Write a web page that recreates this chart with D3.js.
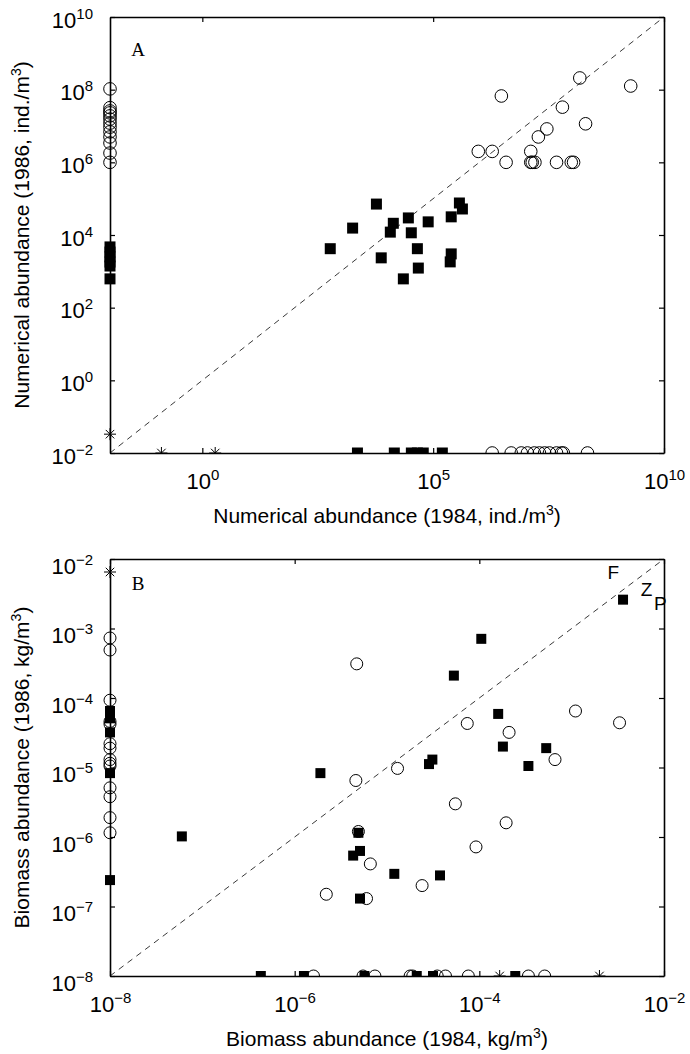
<!DOCTYPE html>
<html><head><meta charset="utf-8">
<script src="https://cdn.jsdelivr.net/npm/d3@7"></script>
<style>
html,body{margin:0;padding:0;background:#fff;}
svg{display:block;}
</style></head>
<body>
<svg id="chart" width="690" height="1054"></svg>
<script>
// ---------------- DATA ----------------
// Panel A: numerical abundance (ind./m^3). Floor value 1e-2 marks "absent" in a year.
const aSquares1984 = [590, 1800, 5900, 7500, 11800, 13700, 22600, 29000, 33600, 45500, 47700, 78000, 234000, 246000, 246000, 370000, 430000,
  0.01, 0.01, 0.01, 0.01, 0.01, 0.01,
  2290, 14400, 33700, 45500, 61000, 158000];
const aSquares1986 = [4200, 15500, 71000, 2350, 12000, 21000, 620, 29500, 11500, 4200, 1230, 23000, 1820, 3020, 31600, 76000, 52000,
  4700, 3400, 2500, 1800, 1400, 620,
  0.01, 0.01, 0.01, 0.01, 0.01, 0.01];
const aCircles1984 = [9.5e5, 1.9e6, 3.0e6, 3.8e6, 1.3e7, 1.3e7, 1.4e7, 1.6e7, 1.9e7, 2.9e7, 4.7e7, 6.3e7, 9.8e7, 1.1e8, 1.5e8, 2.0e8, 1.9e9,
  0.01, 0.01, 0.01, 0.01, 0.01, 0.01, 0.01, 0.01, 0.01, 0.01, 0.01, 0.01, 0.01,
  1.9e6, 4.9e6, 8.1e6, 1.1e7, 1.55e7, 2e7, 2.6e7, 3.3e7, 4.7e7, 6e7, 6.6e7, 2.2e8];
const aCircles1986 = [2.0e6, 2.0e6, 6.7e7, 1.0e6, 2.0e6, 1.0e6, 1.0e6, 1.0e6, 5.0e6, 8.3e6, 1.0e6, 3.3e7, 1.0e6, 1.0e6, 2.1e8, 1.15e7, 1.26e8,
  1.05e8, 3.2e7, 2.6e7, 2.3e7, 1.9e7, 1.55e7, 1.2e7, 9.3e6, 6.9e6, 5e6, 3.4e6, 1.8e6, 1e6,
  0.01, 0.01, 0.01, 0.01, 0.01, 0.01, 0.01, 0.01, 0.01, 0.01, 0.01, 0.01];
const aStars1984 = [0.01, 0.13, 1.9];
const aStars1986 = [0.033, 0.01, 0.01];

// Panel B: biomass abundance (kg/m^3). Floor value 1e-8 marks "absent".
const bSquares1984 = [3.6e-3, 1.05e-4, 5.3e-5, 1.6e-4, 1.8e-4, 5.3e-4, 3.4e-4, 3.1e-5, 2.85e-5, 1.9e-6, 6e-8, 4.9e-6, 5.1e-6, 4.3e-6, 1.2e-5, 3.75e-5, 5.1e-6,
  1e-8, 1e-8, 1e-8, 1e-8, 1e-8,
  4.3e-7, 1.26e-6, 5.7e-6, 2.1e-5, 3.15e-5, 2.45e-4];
const bSquares1986 = [2.6e-3, 7.1e-4, 2.1e-4, 5.9e-5, 2.0e-5, 1.9e-5, 1.05e-5, 1.3e-5, 1.12e-5, 8.3e-6, 1.02e-6, 1.15e-6, 6.3e-7, 5.4e-7, 2.95e-7, 2.8e-7, 1.3e-7,
  6.5e-5, 5.1e-5, 3.2e-5, 8.3e-6, 2.4e-7,
  1e-8, 1e-8, 1e-8, 1e-8, 1e-8, 1e-8];
const bCircles1984 = [4.7e-6, 7.4e-5, 2.1e-4, 1.1e-3, 3.3e-3, 6.6e-4, 1.3e-5, 4.6e-6, 5.5e-5, 1.95e-4, 4.9e-6, 9.2e-5, 6.6e-6, 2.2e-6, 2.4e-5, 6.0e-6,
  1e-8, 1e-8, 1e-8, 1e-8, 1e-8, 1e-8, 1e-8, 1e-8, 1e-8, 1e-8, 1e-8, 1e-8, 1e-8, 1e-8,
  1.6e-6, 5.5e-6, 7.4e-6, 1.78e-5, 1.9e-5, 3.5e-5, 4.3e-5, 7.6e-5, 3.4e-4, 5.1e-4];
const bCircles1986 = [3.1e-4, 4.3e-5, 3.2e-5, 6.5e-5, 4.4e-5, 1.3e-5, 9.7e-6, 6.5e-6, 3.0e-6, 1.6e-6, 1.2e-6, 7.2e-7, 4.1e-7, 1.5e-7, 2.0e-7, 1.3e-7,
  7.3e-4, 4.9e-4, 9.3e-5, 4.6e-5, 4.2e-5, 2.2e-5, 1.9e-5, 1.3e-5, 1.15e-5, 1.05e-5, 5.1e-6, 3.8e-6, 1.9e-6, 1.15e-6,
  1e-8, 1e-8, 1e-8, 1e-8, 1e-8, 1e-8, 1e-8, 1e-8, 1e-8, 1e-8];
const bStars1984 = [1e-8, 1.66e-4, 2.0e-3];
const bStars1986 = [6.5e-3, 1e-8, 1e-8];

// Diagonal labels in panel B
const bLabelText = ["F", "Z", "P"];
const bLabel1984 = [10 ** -2.55, 10 ** -2.19, 10 ** -2.04];
const bLabel1986 = [10 ** -2.19, 10 ** -2.43, 10 ** -2.63];

// Axis ticks
const aYTicks = [1e-2, 1e0, 1e2, 1e4, 1e6, 1e8, 1e10];
const aXTicks = [1e0, 1e5, 1e10];
const bYTicks = [1e-8, 1e-7, 1e-6, 1e-5, 1e-4, 1e-3, 1e-2];
const bXTicks = [1e-8, 1e-6, 1e-4, 1e-2];

// ---------------- DRAWING ----------------
const svg = d3.select("#chart");
const FONT = "'Liberation Sans', Arial, Helvetica, sans-serif";

const asterisk = {
  draw(ctx, size) {
    const r = Math.sqrt(size) / 2, d = r * 0.7071;
    ctx.moveTo(-r, 0); ctx.lineTo(r, 0);
    ctx.moveTo(0, -r); ctx.lineTo(0, r);
    ctx.moveTo(-d, -d); ctx.lineTo(d, d);
    ctx.moveTo(-d, d); ctx.lineTo(d, -d);
  }
};

function supLabel(sel, d) {
  const e = Math.round(Math.log10(d));
  sel.text(null);
  sel.append("tspan").text("10");
  sel.append("tspan").attr("dy", -9).attr("font-size", 15).text(e < 0 ? "\u2212" + (-e) : String(e));
}

function panel(cfg) {
  const {left, right, top, bottom, xDom, yDom, id} = cfg;
  const x = d3.scaleLog().domain(xDom).range([left, right]);
  const y = d3.scaleLog().domain(yDom).range([bottom, top]);
  const g = svg.append("g");

  // clip: clip at bottom axis only
  g.append("clipPath").attr("id", "clip" + id)
    .append("rect").attr("x", left - 30).attr("y", top - 30)
    .attr("width", right - left + 60).attr("height", bottom - top + 30);

  // diagonal 1:1 line
  const lo = Math.max(xDom[0], yDom[0]), hi = Math.min(xDom[1], yDom[1]);
  g.append("path")
    .attr("d", d3.line().x(d => x(d)).y(d => y(d))([lo, hi]))
    .attr("fill", "none").attr("stroke", "#222").attr("stroke-width", 0.9)
    .attr("stroke-dasharray", "6,5");

  // axes
  const tickStyle = s => {
    s.selectAll("path.domain").attr("stroke", "#000").attr("stroke-width", 1.6);
    s.selectAll(".tick line").attr("stroke", "#000").attr("stroke-width", 1.2);
  };
  const yl = g.append("g").attr("transform", `translate(${left},0)`)
    .call(d3.axisLeft(y).tickValues(cfg.yTicks).tickSizeInner(-5).tickSizeOuter(0).tickPadding(17));
  tickStyle(yl);
  yl.selectAll(".tick text").attr("font-family", FONT).attr("font-size", 22).attr("fill", "#000")
    .attr("dy", cfg.yLabelDy).each(function (d) { supLabel(d3.select(this), d); });

  const yr = g.append("g").attr("transform", `translate(${right},0)`)
    .call(d3.axisRight(y).tickValues(cfg.yTicks).tickSizeInner(-5).tickSizeOuter(0).tickFormat(""));
  tickStyle(yr);

  const xb = g.append("g").attr("transform", `translate(0,${bottom})`)
    .call(d3.axisBottom(x).tickValues(cfg.xTicks).tickSizeInner(-5).tickSizeOuter(0).tickPadding(20));
  tickStyle(xb);
  xb.selectAll(".tick text").attr("font-family", FONT).attr("font-size", 22).attr("fill", "#000")
    .attr("dy", "0.71em").each(function (d) { supLabel(d3.select(this), d); });

  const xt = g.append("g").attr("transform", `translate(0,${top})`)
    .call(d3.axisTop(x).tickValues(cfg.xTicks).tickSizeInner(-5).tickSizeOuter(0).tickFormat(""));
  tickStyle(xt);

  // points
  const pg = g.append("g").attr("clip-path", `url(#clip${id})`);
  const sq = d3.zip(cfg.sqX, cfg.sqY);
  const ci = d3.zip(cfg.ciX, cfg.ciY);
  const st = d3.zip(cfg.stX, cfg.stY);
  pg.selectAll("circle.c").data(ci).join("circle").attr("class", "c")
    .attr("cx", d => x(d[0])).attr("cy", d => y(d[1])).attr("r", cfg.r)
    .attr("fill", "none").attr("stroke", "#000").attr("stroke-width", 1);
  pg.selectAll("path.s").data(sq).join("path").attr("class", "s")
    .attr("transform", d => `translate(${x(d[0])},${y(d[1])})`)
    .attr("d", d3.symbol(d3.symbolSquare, cfg.sq * cfg.sq)())
    .attr("fill", "#000");
  pg.selectAll("path.a").data(st).join("path").attr("class", "a")
    .attr("transform", d => `translate(${x(d[0])},${y(d[1])})`)
    .attr("d", d3.symbol(asterisk, 144)())
    .attr("fill", "none").attr("stroke", "#000").attr("stroke-width", 1);

  // panel letter
  g.append("text").attr("x", left + 28).attr("y", top + cfg.letterDy)
    .attr("text-anchor", "middle").attr("font-family", "'Liberation Serif', 'Times New Roman', serif")
    .attr("font-size", 19).text(cfg.letter);

  // axis titles
  const xt2 = g.append("text").attr("x", (left + right) / 2).attr("y", bottom + 70)
    .attr("text-anchor", "middle").attr("font-family", FONT).attr("font-size", 21);
  xt2.append("tspan").text(cfg.xTitle[0]);
  xt2.append("tspan").attr("dy", -8).attr("font-size", 14).text("3");
  xt2.append("tspan").attr("dy", 8).text(")");

  const yt2 = g.append("text").attr("transform", `translate(29,${(top + bottom) / 2}) rotate(-90)`)
    .attr("text-anchor", "middle").attr("font-family", FONT).attr("font-size", 21);
  yt2.append("tspan").text(cfg.yTitle[0]);
  yt2.append("tspan").attr("dy", -8).attr("font-size", 14).text("3");
  yt2.append("tspan").attr("dy", 8).text(")");

  return {g, x, y};
}

panel({
  id: "A", left: 110, right: 664, top: 17, bottom: 453,
  xDom: [1e-2, 1e10], yDom: [1e-2, 1e10],
  yTicks: aYTicks, xTicks: aXTicks, yLabelDy: 10,
  sqX: aSquares1984, sqY: aSquares1986, ciX: aCircles1984, ciY: aCircles1986,
  stX: aStars1984, stY: aStars1986, r: 6.3, sq: 11,
  letter: "A", letterDy: 39,
  xTitle: ["Numerical abundance (1984, ind./m"], yTitle: ["Numerical abundance (1986, ind./m"]
});

const pB = panel({
  id: "B", left: 110, right: 664, top: 559, bottom: 976,
  xDom: [1e-8, 1e-2], yDom: [1e-8, 1e-2],
  yTicks: bYTicks, xTicks: bXTicks, yLabelDy: 14,
  sqX: bSquares1984, sqY: bSquares1986, ciX: bCircles1984, ciY: bCircles1986,
  stX: bStars1984, stY: bStars1986, r: 6, sq: 10,
  letter: "B", letterDy: 31,
  xTitle: ["Biomass abundance (1984, kg/m"], yTitle: ["Biomass abundance (1986, kg/m"]
});

pB.g.selectAll("text.lab").data(d3.zip(bLabelText, bLabel1984, bLabel1986)).join("text")
  .attr("class", "lab").attr("x", d => pB.x(d[1])).attr("y", d => pB.y(d[2]))
  .attr("dy", "0.36em").attr("text-anchor", "middle")
  .attr("font-family", FONT).attr("font-size", 19).text(d => d[0]);
</script>
</body></html>
